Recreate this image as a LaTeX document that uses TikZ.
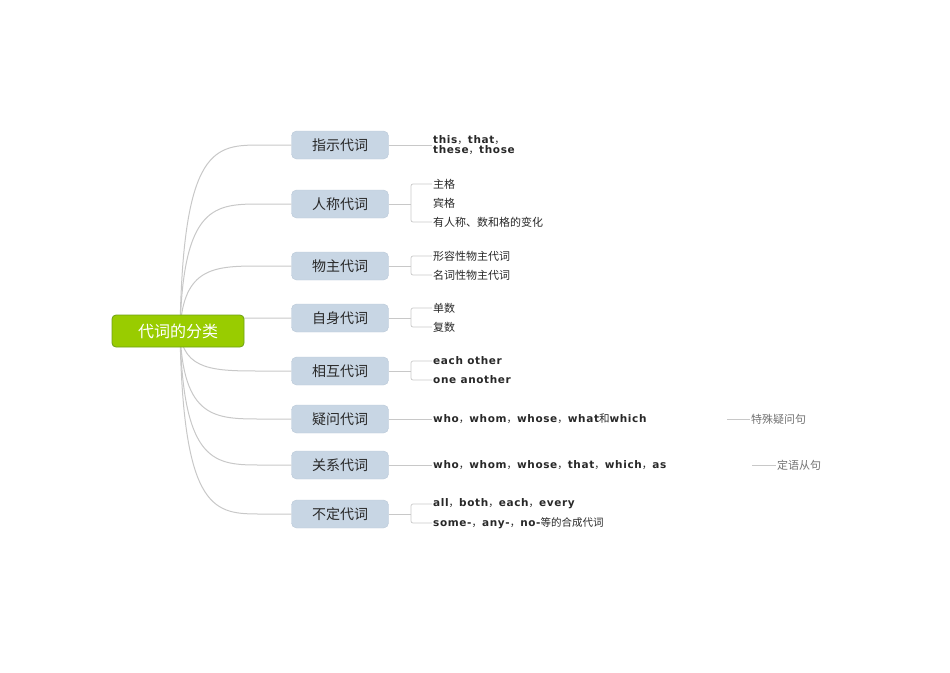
\documentclass[tikz,border=0pt]{standalone}
\usepackage{fontspec}
\setmainfont{DejaVu Sans}
\newfontfamily\cjk{Noto Sans CJK SC}
\newfontfamily\eng[LetterSpace=6]{DejaVu Sans Bold}
\newcommand\cm{{\cjk\mdseries ，}}
\definecolor{bfill}{RGB}{200,214,228}
\definecolor{bdraw}{RGB}{185,200,215}
\definecolor{rfill}{RGB}{153,204,0}
\definecolor{rdraw}{RGB}{110,160,20}
\definecolor{lgray}{RGB}{200,200,200}
\definecolor{tx}{RGB}{40,40,40}
\begin{document}
\begin{tikzpicture}[x=1pt,y=-1pt,
  rootbox/.style={draw=rdraw,fill=rfill,rounded corners=4pt,minimum width=132pt,minimum height=32pt,font=\cjk\fontsize{16}{18}\selectfont,text=white,line width=0.8pt},
  branchbox/.style={draw=bdraw,fill=bfill,rounded corners=5pt,minimum width=97pt,minimum height=28pt,font=\cjk\fontsize{14}{16}\selectfont,text=tx},
  leaf/.style={anchor=west,inner sep=1pt,font=\cjk\fontsize{11}{13}\selectfont,text=tx},
  eleaf/.style={anchor=west,inner sep=1pt,font=\eng\fontsize{10.5}{12}\selectfont,text=tx,align=left},
  conn/.style={draw=lgray,line width=1pt},
  thin/.style={draw=lgray,line width=0.7pt}]
\useasboundingbox (0,0) rectangle (950,672);
\foreach \n/\y/\t in {b1/145/指示代词,b2/204/人称代词,b3/266/物主代词,b4/318/自身代词,b5/371/相互代词,b6/419/疑问代词,b7/465/关系代词,b8/514/不定代词}{
  \node[branchbox] (\n) at (340,\y) {\t};
  \draw[conn] (180,331) .. controls (183,\y) and (215,\y) .. (262,\y) -- (\n.west);
}
\node[rootbox] (root) at (178,331) {代词的分类};
% leaves
\node[eleaf] (l1) at (432,145) {this\cm that\cm\\[-2pt]these\cm those};
\draw[thin] (b1.east) -- (l1.west);
\node[leaf] (l21) at (432,184) {主格};
\node[leaf] (l22) at (432,203) {宾格};
\node[leaf] (l23) at (432,222) {有人称、数和格的变化};
\node[leaf] (l31) at (432,256) {形容性物主代词};
\node[leaf] (l32) at (432,275) {名词性物主代词};
\node[leaf] (l41) at (432,308) {单数};
\node[leaf] (l42) at (432,327) {复数};
\node[eleaf] (l51) at (432,361) {each other};
\node[eleaf] (l52) at (432,380) {one another};
\node[eleaf] (l6) at (432,419) {who\cm whom\cm whose\cm what{\cjk\mdseries 和}which};
\node[eleaf] (l7) at (432,465) {who\cm whom\cm whose\cm that\cm which\cm as};
\node[eleaf] (l81) at (432,504) {all\cm both\cm each\cm every};
\node[eleaf] (l82) at (432,523) {some-\cm any-\cm no-{\cjk\mdseries 等的合成代词}};
\node[leaf,text=gray!90!black] (s6) at (750,419) {特殊疑问句};
\node[leaf,text=gray!90!black] (s7) at (776,465) {定语从句};
\draw[thin] (b6.east) -- (l6.west);
\draw[thin] (b7.east) -- (l7.west);
\draw[thin] (727,419) coordinate (c6) -- (s6.west);
\draw[thin] (752,465) coordinate (c7) -- (s7.west);
\foreach \b/\top/\bot in {b2/l21/l23,b3/l31/l32,b4/l41/l42,b5/l51/l52,b8/l81/l82}{
  \draw[thin] (\b.east) -- (411,0 |- \b.east);
  \draw[thin,rounded corners=2pt] (\top.west) -| (411,0 |- \b.east) |- (\bot.west);
}
\end{tikzpicture}
\end{document}
